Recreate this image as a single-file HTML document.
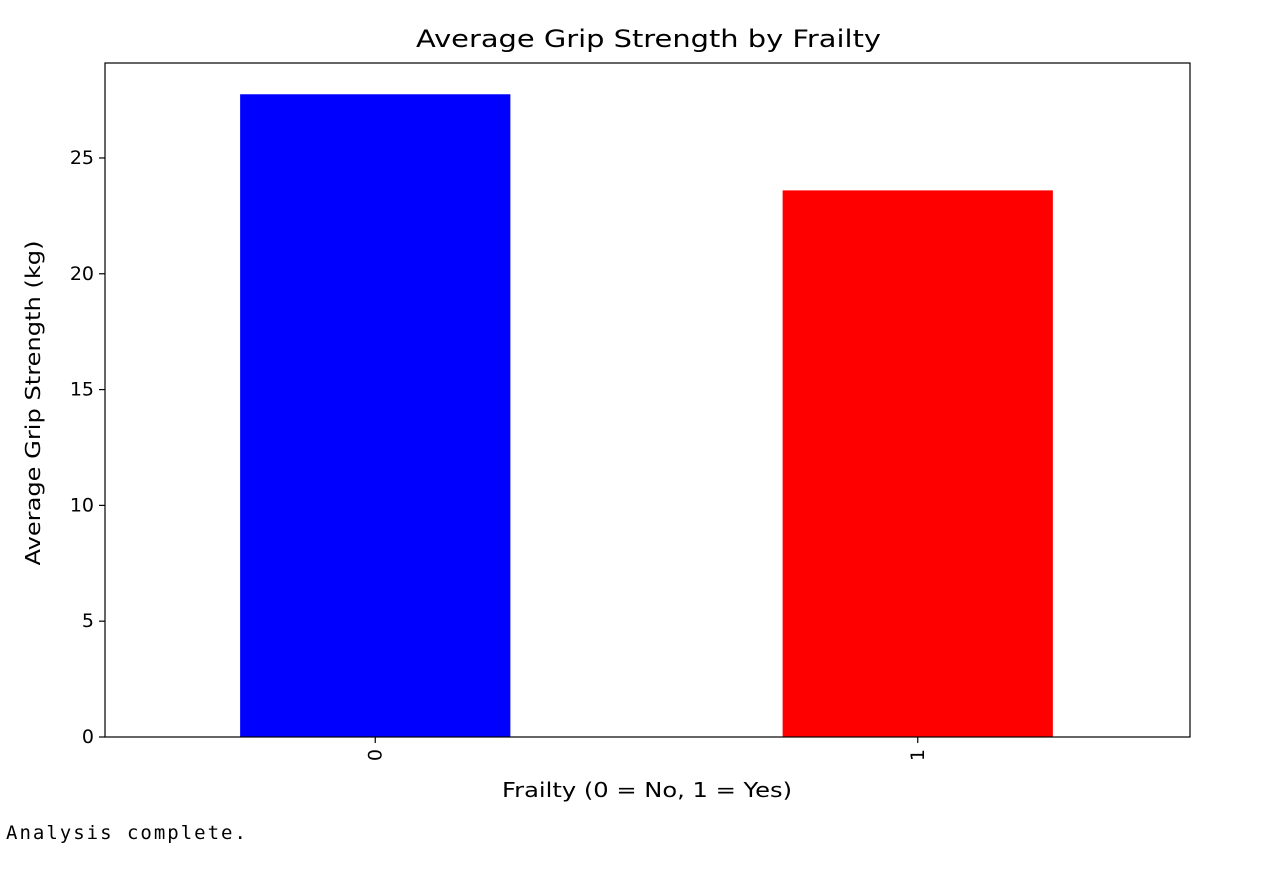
<!DOCTYPE html>
<html><head><meta charset="utf-8"><style>
body{margin:0;background:#fff;width:1275px;height:881px;overflow:hidden;font-family:"DejaVu Sans","Liberation Sans",sans-serif}
#out{position:absolute;left:6px;top:822px;font-family:"DejaVu Sans Mono","Liberation Mono",monospace;font-size:19px;letter-spacing:2px;color:#000}
</style></head><body>
<svg id="chart" width="1275" height="881" style="position:absolute;left:0;top:0"></svg>
<div id="out">Analysis complete.</div>
<script>
const categories = ["0","1"];
const values = [27.75, 23.6];
const colors = ["#0000ff","#ff0000"];
const yTicks = [0,5,10,15,20,25];
const L=105,R=1190,T=63,B=737,yMax=29.1;
const svg=document.getElementById('chart');
const NS='http://www.w3.org/2000/svg';
function y(v){return B-(v/yMax)*(B-T);}
function x(i){const u=(R-L)/categories.length;return L+u*(i+0.5)-1;}
function mk(t,a,txt){const e=document.createElementNS(NS,t);for(const k in a)e.setAttribute(k,a[k]);if(txt!==undefined)e.textContent=txt;svg.appendChild(e);return e;}
const bw=(R-L)/categories.length*0.5-1;
categories.forEach((c,i)=>{
  const b=mk('rect',{x:x(i)-bw/2,y:y(values[i]),width:bw,height:B-y(values[i]),fill:colors[i]});
  
  
  const tk=mk('line',{x1:x(i),x2:x(i),y1:B,y2:B+6,stroke:'#000','stroke-width':1.2});
  
  
  const lb=mk('text',{x:0,y:0,'font-size':19,'text-anchor':'end',transform:`translate(${x(i)+6},${B+12}) rotate(-90)`},c);
  
  
});
yTicks.forEach(v=>{
  const tk=mk('line',{x1:L-6,x2:L,y1:y(v),y2:y(v),stroke:'#000','stroke-width':1.2});
  
  
  const lb=mk('text',{x:L-11,y:y(v)+6,'font-size':19,'text-anchor':'end'},String(v));
  
  
});
const fr=mk('rect',{x:L,y:T,width:R-L,height:B-T,fill:'none',stroke:'#000','stroke-width':1.2});


const ti=mk('text',{x:(L+R)/2+1,y:47,'font-size':24,'text-anchor':'middle',textLength:465,lengthAdjust:'spacingAndGlyphs'},'Average Grip Strength by Frailty');


const xt=mk('text',{x:647,y:797,'font-size':20,'text-anchor':'middle',textLength:290,lengthAdjust:'spacingAndGlyphs'},'Frailty (0 = No, 1 = Yes)');


const yt=mk('text',{x:0,y:0,'font-size':20,'text-anchor':'middle',textLength:325,lengthAdjust:'spacingAndGlyphs',transform:`translate(40,403) rotate(-90)`},'Average Grip Strength (kg)');


</script>
</body></html>
